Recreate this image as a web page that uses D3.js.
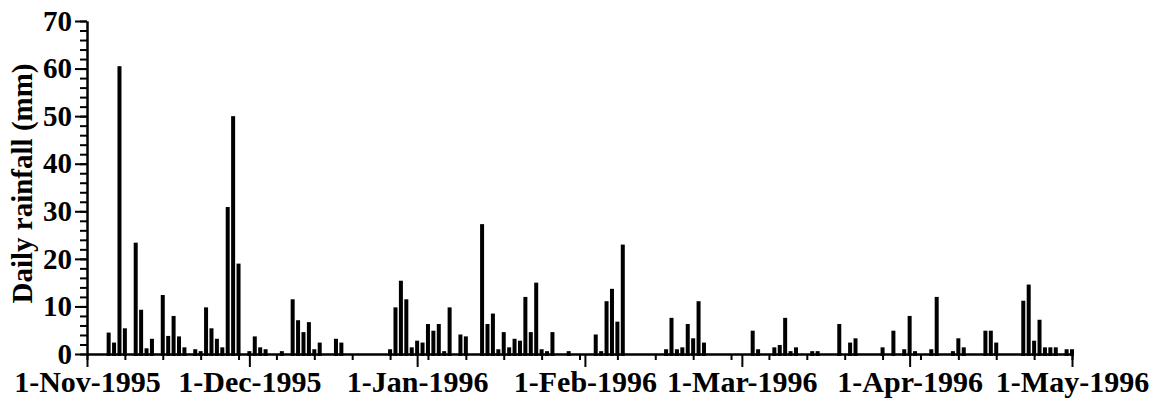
<!DOCTYPE html>
<html>
<head>
<meta charset="utf-8">
<script src="https://cdn.jsdelivr.net/npm/d3@7"></script>
<style>
  body { margin: 0; background: #fff; }
  text { font-family: "Liberation Serif", "Times New Roman", serif; font-weight: bold; }
</style>
</head>
<body>
<div id="chart"></div>
<script>
// Daily rainfall, Nov 1995 - May 1996 (days without a bar are dry)
const rainDates = [
  '1995-11-05', '1995-11-06', '1995-11-07', '1995-11-08', '1995-11-10', '1995-11-11',
  '1995-11-12', '1995-11-13', '1995-11-15', '1995-11-16', '1995-11-17', '1995-11-18',
  '1995-11-19', '1995-11-21', '1995-11-22', '1995-11-23', '1995-11-24', '1995-11-25',
  '1995-11-26', '1995-11-27', '1995-11-28', '1995-11-29',
  '1995-12-01', '1995-12-02', '1995-12-03', '1995-12-04', '1995-12-07', '1995-12-09',
  '1995-12-10', '1995-12-11', '1995-12-12', '1995-12-13', '1995-12-14', '1995-12-17',
  '1995-12-18', '1995-12-27', '1995-12-28', '1995-12-29', '1995-12-30', '1995-12-31',
  '1996-01-01', '1996-01-02', '1996-01-03', '1996-01-04', '1996-01-05', '1996-01-06',
  '1996-01-07', '1996-01-09', '1996-01-10', '1996-01-13', '1996-01-14', '1996-01-15',
  '1996-01-16', '1996-01-17', '1996-01-18', '1996-01-19', '1996-01-20', '1996-01-21',
  '1996-01-22', '1996-01-23', '1996-01-24', '1996-01-25', '1996-01-26', '1996-01-29',
  '1996-02-03', '1996-02-04', '1996-02-05', '1996-02-06', '1996-02-07', '1996-02-08',
  '1996-02-16', '1996-02-17', '1996-02-18', '1996-02-19', '1996-02-20', '1996-02-21',
  '1996-02-22', '1996-02-23',
  '1996-03-03', '1996-03-04', '1996-03-07', '1996-03-08', '1996-03-09', '1996-03-10',
  '1996-03-11', '1996-03-14', '1996-03-15', '1996-03-19', '1996-03-21', '1996-03-22',
  '1996-03-27', '1996-03-29', '1996-03-31',
  '1996-04-01', '1996-04-02', '1996-04-05', '1996-04-06', '1996-04-09', '1996-04-10',
  '1996-04-11', '1996-04-15', '1996-04-16', '1996-04-17', '1996-04-22', '1996-04-23',
  '1996-04-24', '1996-04-25', '1996-04-26', '1996-04-27', '1996-04-28', '1996-04-30',
  '1996-05-01',
];

const rainMm = [
  4.5, 2.4, 60.5, 5.4, 23.4, 9.3,
  1.2, 3.2, 12.4, 3.8, 8.0, 3.7,
  1.4, 1.0, 0.6, 9.8, 5.4, 3.2,
  1.4, 30.9, 50.0, 19.0,
  0.6, 3.7, 1.4, 1.0, 0.6, 11.5,
  7.1, 4.6, 6.7, 1.0, 2.4, 3.2,
  2.4, 1.0, 9.8, 15.4, 11.5, 1.4,
  2.8, 2.4, 6.3, 4.9, 6.3, 0.6,
  9.8, 4.1, 3.7, 27.3, 6.3, 8.5,
  1.0, 4.6, 1.4, 3.2, 2.8, 12.0,
  4.6, 15.0, 1.0, 0.6, 4.6, 0.6,
  4.1, 0.6, 11.1, 13.7, 6.8, 23.0,
  1.0, 7.6, 1.0, 1.4, 6.3, 3.3,
  11.1, 2.4,
  4.9, 1.0, 1.4, 1.9, 7.6, 0.6,
  1.4, 0.6, 0.6, 6.3, 2.4, 3.3,
  1.4, 4.9, 1.0,
  8.0, 0.6, 1.0, 12.0, 0.6, 3.3,
  1.4, 4.9, 4.9, 2.4, 11.2, 14.6,
  2.8, 7.2, 1.4, 1.4, 1.4, 1.0,
  1.0,
];

const xStart = '1995-11-01';
const xEnd = '1996-05-01';
const yMax = 70;
const yLabelTicks = [0, 10, 20, 30, 40, 50, 60, 70];

const width = 1154;
const height = 402;
const margin = { top: 21, right: 82, bottom: 48, left: 87 };

const parseDate = d3.utcParse('%Y-%m-%d');
const formatTick = d3.utcFormat('%-d-%b-%Y');

const bars = rainDates.map((d, i) => ({ date: parseDate(d), mm: rainMm[i] }));

const svg = d3.select('#chart').append('svg')
  .attr('width', width)
  .attr('height', height);

const x = d3.scaleUtc()
  .domain([parseDate(xStart), parseDate(xEnd)])
  .range([margin.left, width - margin.right]);

const y = d3.scaleLinear()
  .domain([0, yMax])
  .range([height - margin.bottom, margin.top]);

// Bars
svg.append('g')
  .selectAll('rect')
  .data(bars)
  .join('rect')
    .attr('x', (d) => x(d.date) - 2)
    .attr('y', (d) => y(d.mm))
    .attr('width', 4)
    .attr('height', (d) => y(0) - y(d.mm) + 2)
    .attr('fill', '#000')

// Axes: weekly minor ticks, monthly major ticks with labels
const xMinor = svg.append('g')
  .attr('transform', `translate(0,${y(0)})`)
  .call(d3.axisBottom(x).ticks(d3.utcWednesday.every(1)).tickSize(6).tickSizeOuter(0).tickFormat(''));

const xMajor = svg.append('g')
  .attr('transform', `translate(0,${y(0)})`)
  .call(d3.axisBottom(x).ticks(d3.utcMonth.every(1)).tickSize(13).tickSizeOuter(0).tickPadding(4).tickFormat(formatTick));

const yMinor = svg.append('g')
  .attr('transform', `translate(${margin.left},0)`)
  .call(d3.axisLeft(y).ticks(35).tickSize(7).tickSizeOuter(0).tickFormat(''));

const yMajor = svg.append('g')
  .attr('transform', `translate(${margin.left},0)`)
  .call(d3.axisLeft(y).tickValues(yLabelTicks).tickSize(12).tickSizeOuter(0).tickPadding(3));

svg.selectAll('.domain, .tick line')
  .attr('stroke', '#000')
  .attr('stroke-width', 2);

svg.selectAll('.tick text')
  .attr('fill', '#000')
  .style('font-size', '29px');

xMajor.selectAll('.tick text')
  .style('font-size', '30px');

// y axis title
svg.append('text')
  .attr('transform', `translate(32,${(y(0) + y(yMax)) / 2 - 4}) rotate(-90)`)
  .attr('text-anchor', 'middle')
  .style('font-size', '29px')
  .text('Daily rainfall (mm)');
</script>
</body>
</html>
